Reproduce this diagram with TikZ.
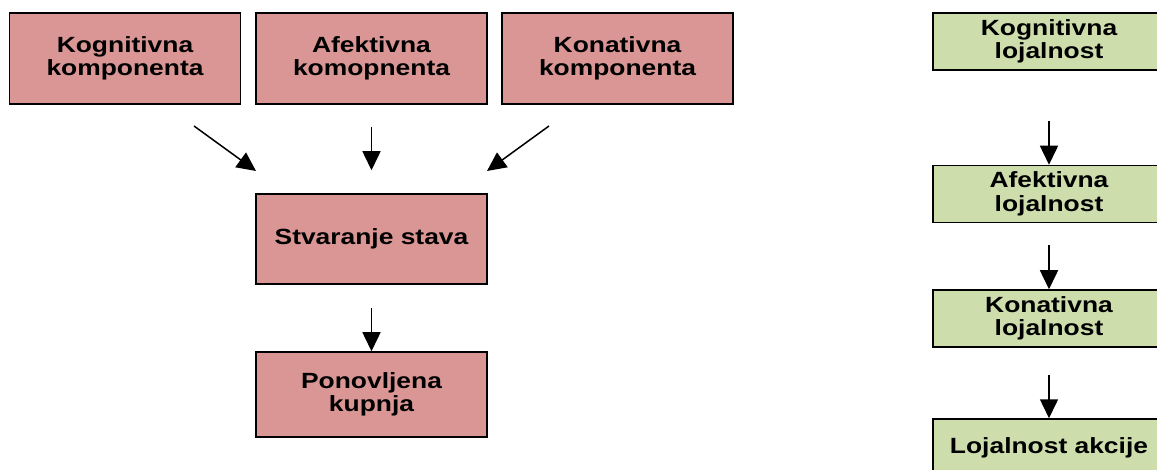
\documentclass[tikz,border=0pt]{standalone}
\usepackage{fontspec}
\setmainfont{Liberation Sans}[FakeStretch=1.2, BoldFeatures={FakeStretch=1.2}]
\usetikzlibrary{arrows.meta}
\definecolor{roza}{RGB}{217,150,148}
\definecolor{zelena}{RGB}{205,221,172}
\tikzset{
  box/.style={draw=black, line width=1.5pt, inner sep=0pt, align=center, font=\fontsize{22}{23.5}\selectfont\bfseries},
  pbox/.style={box, fill=roza, minimum width=231pt},
  gbox/.style={box, fill=zelena, minimum width=232pt, minimum height=57pt},
  arr/.style={-{Triangle[length=19pt,width=18pt]}, line width=1.5pt}
}

\begin{document}
\begin{tikzpicture}[x=1pt, y=-1pt]
\clip (0,0) rectangle (1157,470);
\node[pbox, minimum height=91pt] (G1Nkog) at (125,58.5) {Kognitivna\\komponenta};
\node[pbox, minimum height=91pt] (G1Nafe) at (371.5,58.5) {Afektivna\\komopnenta};
\node[pbox, minimum height=91pt] (G1Nkon) at (617.5,58.5) {Konativna\\komponenta};
\node[pbox, minimum height=90pt] (G1Nstv) at (371.5,239) {Stvaranje stava};
\node[pbox, minimum height=85pt] (G1Npon) at (371.5,394.5) {Ponovljena\\kupnja};
\coordinate (G1Akog) at (194,126);
\coordinate (G1Bkog) at (256,171);
\coordinate (G1Akon) at (549,126);
\coordinate (G1Bkon) at (487,171);
\draw[arr] (G1Akog) -- (G1Bkog);
\draw[arr, shorten <=22pt, shorten >=23pt] (G1Nafe) -- (G1Nstv);
\draw[arr] (G1Akon) -- (G1Bkon);
\draw[arr, shorten <=23pt] (G1Nstv) -- (G1Npon);
\node[gbox] (G2Nkog) at (1049,41.5) {Kognitivna\\lojalnost};
\node[gbox] (G2Nafe) at (1049,194) {Afektivna\\lojalnost};
\node[gbox] (G2Nkon) at (1049,318.5) {Konativna\\lojalnost};
\node[gbox] (G2Nakc) at (1049,447.5) {Lojalnost akcije};
\draw[arr, shorten <=50pt] (G2Nkog) -- (G2Nafe);
\draw[arr, shorten <=22pt] (G2Nafe) -- (G2Nkon);
\draw[arr, shorten <=27pt] (G2Nkon) -- (G2Nakc);
\end{tikzpicture}
\end{document}
